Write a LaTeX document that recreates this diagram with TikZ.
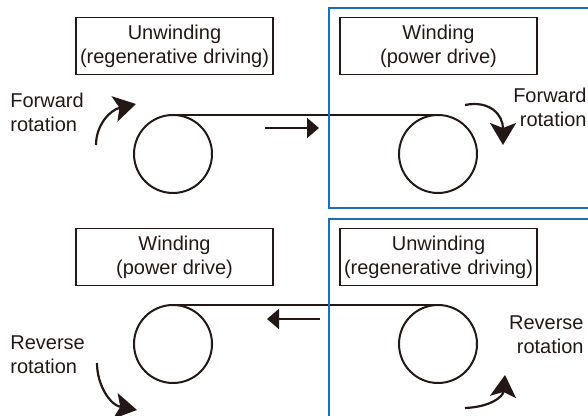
\documentclass[tikz,border=0pt]{standalone}
\usepackage{fontspec}
\setmainfont{Liberation Sans}
\usetikzlibrary{arrows.meta,positioning}
\definecolor{inkdark}{RGB}{35,24,21}
\definecolor{zoneblue}{RGB}{30,110,183}
\tikzset{
  roller/.style={circle,draw=inkdark,line width=1pt,minimum size=39pt,
                 inner sep=0pt,outer sep=0pt},
  modebox/.style={draw=inkdark,line width=.6pt,minimum width=98.5pt,
                  minimum height=28.5pt,inner sep=1pt,align=center,text=inkdark},
  rotlabel/.style={inner sep=0pt,text=inkdark},
  web/.style={draw=inkdark,line width=1pt},
  feed/.style={-{Triangle[length=6pt,width=10pt]},draw=inkdark,line width=1pt},
  turn/.style={-{Stealth[length=11pt,width=13pt,inset=2.5pt]},draw=inkdark,
               line width=1.1pt},
  zone/.style={draw=zoneblue,line width=1.2pt},
}

\begin{document}
\begin{tikzpicture}[x=0.5pt,y=-0.5pt,font=\fontsize{10}{12}\selectfont]
  \clip (0,0) rectangle (588,416);
  % forward run
  \node[roller] (rolA) at (173,154) {};
  \node[roller] (rolB) at (438,154) {};
  \draw[web] (rolA.north) -- (rolB.north);
  \node[modebox,above=20pt of rolA,xshift=.75pt] (boxA) {Unwinding\\(regenerative driving)};
  \node[modebox,above=20pt of rolB,xshift=.25pt] (boxB) {Winding\\(power drive)};
  \node[rotlabel,anchor=north west,align=left] (rotA) at (10,93) {Forward\\rotation};
  \node[rotlabel,anchor=north east,align=right] (rotB) at (587,88) {Forward\\rotation};
  \coordinate (feedA0) at (265,128);
  \coordinate (feedA1) at (319,128);
  \draw[feed] (feedA0) -- (feedA1);
  \coordinate (turnA0) at (96,145);
  \coordinate (turnA1) at (136,104);
  \draw[turn] (turnA0) .. controls (96,125) and (110,110) .. (turnA1);
  \coordinate (turnB0) at (465,105);
  \coordinate (turnB1) at (503,145);
  \draw[turn] (turnB0) .. controls (490,100) and (503,115) .. (turnB1);
  % reverse run
  \node[roller] (rolC) at (173,344) {};
  \node[roller] (rolD) at (438,344) {};
  \draw[web] (rolC.north) -- (rolD.north);
  \node[modebox,above=9.5pt of rolC,xshift=.75pt] (boxC) {Winding\\(power drive)};
  \node[modebox,above=9.5pt of rolD,xshift=.25pt] (boxD) {Unwinding\\(regenerative driving)};
  \node[rotlabel,anchor=north west,align=left] (rotC) at (10,335) {Reverse\\rotation};
  \node[rotlabel,anchor=north east,align=right] (rotD) at (584,315) {Reverse\\rotation};
  \coordinate (feedC0) at (320,319);
  \coordinate (feedC1) at (267,319);
  \draw[feed] (feedC0) -- (feedC1);
  \coordinate (turnC0) at (97,363);
  \coordinate (turnC1) at (137,410);
  \draw[turn] (turnC0) .. controls (97,385) and (110,405) .. (turnC1);
  \coordinate (turnD0) at (465,408);
  \coordinate (turnD1) at (505,375);
  \draw[turn] (turnD0) .. controls (490,407) and (503,397) .. (turnD1);
  % drive zones
  \draw[zone] (329,8) rectangle (600,208);
  \draw[zone] (329,219) rectangle (600,430);
\end{tikzpicture}
\end{document}
